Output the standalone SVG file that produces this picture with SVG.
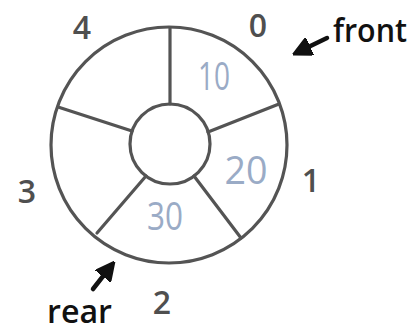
<svg xmlns="http://www.w3.org/2000/svg" width="411" height="333" viewBox="0 0 411 333">
  <style>
    .ring { fill: none; stroke: #545454; stroke-width: 3.2; }
    .spoke { stroke: #545454; stroke-width: 3.2; stroke-linecap: round; }
    .idx { font-family: "Open Sans", "DejaVu Sans", sans-serif; font-size: 32px; fill: #4f4f4f; text-anchor: middle; font-weight: 600; }
    .val { font-family: "Open Sans", "DejaVu Sans", sans-serif; font-size: 38px; fill: #9aabc6; text-anchor: middle; }
    .ptr { font-family: "Open Sans", "DejaVu Sans", sans-serif; font-size: 32px; fill: #111; font-weight: 600; }
    .arrow { stroke: #111; stroke-width: 4.5; stroke-linecap: round; fill: none; }
  </style>
  <defs>
    <marker id="head" viewBox="0 0 10 10" refX="7" refY="5" markerWidth="4.2" markerHeight="4.2" orient="auto" markerUnits="strokeWidth">
      <path d="M0,0 L10,5 L0,10 Z" fill="#111" stroke="#111" stroke-width="1" stroke-linejoin="round"/>
    </marker>
  </defs>
  <rect width="411" height="333" fill="#ffffff"/>

  <g id="queue">
    <circle class="ring" cx="169" cy="145" r="118"/>
    <circle class="ring" cx="170" cy="144" r="40"/>
  </g>

  <g id="connectors">
    <line class="spoke" x1="170" y1="104" x2="170" y2="28"/>
    <line class="spoke" x1="208" y1="132" x2="279" y2="104"/>
    <line class="spoke" x1="194" y1="176" x2="241" y2="238"/>
    <line class="spoke" x1="146" y1="176" x2="97" y2="233"/>
    <line class="spoke" x1="132" y1="131" x2="58" y2="107"/>
    <line class="arrow" x1="327" y1="38" x2="298" y2="52" marker-end="url(#head)"/>
    <line class="arrow" x1="93" y1="289" x2="111" y2="266" marker-end="url(#head)"/>
  </g>

  <g id="slot0">
    <text class="val" x="214" y="90" textLength="32" lengthAdjust="spacingAndGlyphs">10</text>
    <text class="idx" x="258" y="37">0</text>
  </g>
  <g id="slot1">
    <text class="val" x="246" y="184" font-size="44" textLength="43" lengthAdjust="spacingAndGlyphs">20</text>
    <text class="idx" x="311" y="192">1</text>
  </g>
  <g id="slot2">
    <text class="val" x="165" y="230" textLength="36" lengthAdjust="spacingAndGlyphs">30</text>
    <text class="idx" x="162" y="314">2</text>
  </g>
  <g id="slot3">
    <text class="idx" x="27" y="203">3</text>
  </g>
  <g id="slot4">
    <text class="idx" x="82" y="39">4</text>
  </g>

  <g id="front">
    <text class="ptr" x="333" y="42" textLength="74" lengthAdjust="spacingAndGlyphs">front</text>
  </g>
  <g id="rear">
    <text class="ptr" x="47" y="323" textLength="65" lengthAdjust="spacingAndGlyphs">rear</text>
  </g>
</svg>
